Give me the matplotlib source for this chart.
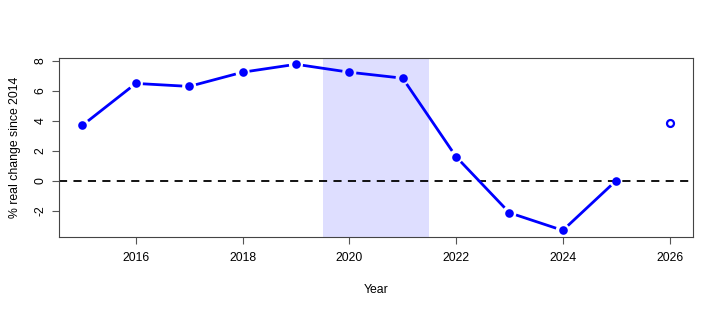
import matplotlib as mpl
import matplotlib.pyplot as plt
import numpy as np

years = [2015, 2016, 2017, 2018, 2019, 2020, 2021, 2022, 2023, 2024, 2025]
change = [3.70, 6.50, 6.30, 7.25, 7.78, 7.25, 6.85, 1.60, -2.15, -3.33, 0.0]
proj_year = [2026]
proj_change = [3.85]
shade = (2019.5, 2021.5)
xticks = [2016, 2018, 2020, 2022, 2024, 2026]
yticks = [-2, 0, 2, 4, 6, 8]

mpl.rcParams.update({
    "font.family": ["Liberation Sans", "DejaVu Sans"],
    "font.size": 8.8,
    "axes.linewidth": 0.8,
})

fig = plt.figure(figsize=(7.23, 3.11), dpi=100)
ax = fig.add_axes([0.0816, 0.238, 0.8769, 0.5755])

ax.set_xlim(2014.56, 2026.44)
ax.set_ylim(-3.77, 8.2)

ax.axvspan(*shade, color="#dedeff", lw=0, zorder=0)
ax.axhline(0, color="black", lw=1.3, ls=(0, (4.5, 3.5)), zorder=1)

# R type="b": segments stop short of the points
gap = 7.0  # pixels
pts = ax.transData.transform(np.column_stack([years, change]))
inv = ax.transData.inverted()
for a, b in zip(pts[:-1], pts[1:]):
    d = b - a
    u = d / np.hypot(*d)
    seg = inv.transform(np.array([a + u * gap, b - u * gap]))
    ax.plot(seg[:, 0], seg[:, 1], color="#0000ff", lw=2.0,
            solid_capstyle="butt", zorder=2)

ax.plot(years, change, ls="none", marker="o", ms=6.2,
        mfc="#0000ff", mec="#0000ff", mew=0, zorder=3)
ax.plot(proj_year, proj_change, ls="none", marker="o", ms=5.0,
        mfc="white", mec="#0000ff", mew=1.6, zorder=3)

ax.set_xticks(xticks)
ax.set_yticks(yticks)
ax.set_yticklabels([str(v) for v in yticks], rotation=90, va="center")
ax.tick_params(length=5, width=0.8, color="#555555", pad=6)
ax.tick_params(axis="y", pad=4)
for side in ax.spines.values():
    side.set_color("#444444")

ax.set_xlabel("Year", labelpad=14)
ax.set_ylabel("% real change since 2014", labelpad=10)

fig.savefig("out.png", dpi=100)
